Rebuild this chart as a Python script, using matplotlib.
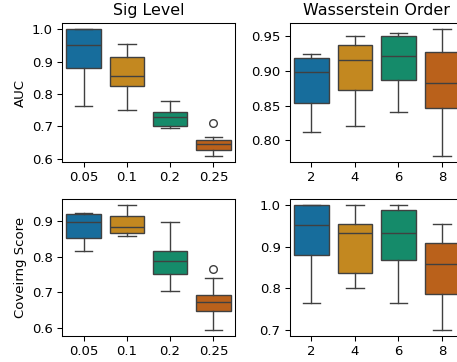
import colorsys
import matplotlib
matplotlib.use("Agg")
import matplotlib.pyplot as plt
from matplotlib.colors import to_rgb

# ---------------- data ----------------
sig_levels = ["0.05", "0.1", "0.2", "0.25"]
w_orders = ["2", "4", "6", "8"]

# AUC vs Sig Level
auc_sig_whislo = [0.764, 0.750, 0.694, 0.609]
auc_sig_q1     = [0.880, 0.826, 0.701, 0.627]
auc_sig_med    = [0.952, 0.857, 0.729, 0.645]
auc_sig_q3     = [1.000, 0.915, 0.743, 0.657]
auc_sig_whishi = [1.000, 0.955, 0.779, 0.667]
auc_sig_fliers = [[], [], [], [0.709]]

# AUC vs Wasserstein Order
auc_w_whislo = [0.812, 0.821, 0.841, 0.778]
auc_w_q1     = [0.854, 0.872, 0.887, 0.847]
auc_w_med    = [0.898, 0.916, 0.921, 0.882]
auc_w_q3     = [0.918, 0.938, 0.951, 0.928]
auc_w_whishi = [0.924, 0.950, 0.955, 0.960]
auc_w_fliers = [[], [], [], []]

# Covering score vs Sig Level
cov_sig_whislo = [0.815, 0.859, 0.703, 0.594]
cov_sig_q1     = [0.854, 0.866, 0.752, 0.646]
cov_sig_med    = [0.898, 0.885, 0.787, 0.671]
cov_sig_q3     = [0.919, 0.914, 0.817, 0.692]
cov_sig_whishi = [0.924, 0.945, 0.898, 0.741]
cov_sig_fliers = [[], [], [], [0.764]]

# Covering score vs Wasserstein Order
cov_w_whislo = [0.764, 0.800, 0.764, 0.700]
cov_w_q1     = [0.880, 0.836, 0.868, 0.785]
cov_w_med    = [0.952, 0.933, 0.934, 0.858]
cov_w_q3     = [1.000, 0.955, 0.988, 0.908]
cov_w_whishi = [1.000, 1.000, 1.000, 0.955]
cov_w_fliers = [[], [], [], []]

auc_sig_ticks = [0.6, 0.7, 0.8, 0.9, 1.0]
auc_w_ticks = [0.80, 0.85, 0.90, 0.95]
cov_sig_ticks = [0.6, 0.7, 0.8, 0.9]
cov_w_ticks = [0.7, 0.8, 0.9, 1.0]

# ---------------- style ----------------
base = ["#0173B2", "#DE8F05", "#029E73", "#D55E00"]


def desat(c, p=0.75):
    h, l, s = colorsys.rgb_to_hls(*to_rgb(c))
    return colorsys.hls_to_rgb(h, l, s * p)


colors = [desat(c) for c in base]
line_c = (0.25, 0.25, 0.25)
lw = 1.0
FS = 9.5
TFS = 11.4

W, H = 457, 362
fig = plt.figure(figsize=(W / 100, H / 100), dpi=100)

panels = [
    ([62, 23, 173, 139], sig_levels, auc_sig_whislo, auc_sig_q1, auc_sig_med, auc_sig_q3, auc_sig_whishi, auc_sig_fliers, auc_sig_ticks, "%.1f", "Sig Level", "AUC"),
    ([289.7, 23, 174, 139], w_orders, auc_w_whislo, auc_w_q1, auc_w_med, auc_w_q3, auc_w_whishi, auc_w_fliers, auc_w_ticks, "%.2f", "Wasserstein Order", None),
    ([62, 199, 173, 137], sig_levels, cov_sig_whislo, cov_sig_q1, cov_sig_med, cov_sig_q3, cov_sig_whishi, cov_sig_fliers, cov_sig_ticks, "%.1f", None, "Coveirng Score"),
    ([289.7, 199, 174, 137], w_orders, cov_w_whislo, cov_w_q1, cov_w_med, cov_w_q3, cov_w_whishi, cov_w_fliers, cov_w_ticks, "%.1f", None, None),
]

for rect, cats, lo, q1, med, q3, hi, fl, yt, fmt, title, ylab in panels:
    x, y, w, h = rect
    ax = fig.add_axes([x / W, 1 - (y + h) / H, w / W, h / H])
    stats = []
    for i in range(len(cats)):
        stats.append(dict(whislo=lo[i], q1=q1[i], med=med[i], q3=q3[i],
                          whishi=hi[i], fliers=fl[i], label=cats[i]))
    bp = ax.bxp(stats, positions=range(len(cats)), widths=0.8, capwidths=0.4,
                patch_artist=True, showfliers=True,
                boxprops=dict(edgecolor=line_c, linewidth=lw),
                whiskerprops=dict(color=line_c, linewidth=lw),
                capprops=dict(color=line_c, linewidth=lw),
                medianprops=dict(color=line_c, linewidth=lw),
                flierprops=dict(marker="o", markersize=5.5, markerfacecolor="none",
                                markeredgecolor=line_c, markeredgewidth=lw))
    for patch, c in zip(bp["boxes"], colors):
        patch.set_facecolor(c)
    ax.set_xlim(-0.5, len(cats) - 0.5)
    ax.margins(y=0.05)
    ax.autoscale_view()
    ax.set_xticks(range(len(cats)))
    ax.set_xticklabels(cats, fontsize=FS)
    ax.set_yticks(yt)
    ax.set_yticklabels([fmt % v for v in yt], fontsize=FS)
    ax.tick_params(length=3.3, width=0.76, pad=3.3)
    for s in ax.spines.values():
        s.set_linewidth(0.76)
    if title:
        ax.set_title(title, fontsize=TFS, pad=5.7)
    if ylab:
        ax.set_ylabel(ylab, fontsize=FS, labelpad=3.8)

fig.savefig("out.png", dpi=100)
